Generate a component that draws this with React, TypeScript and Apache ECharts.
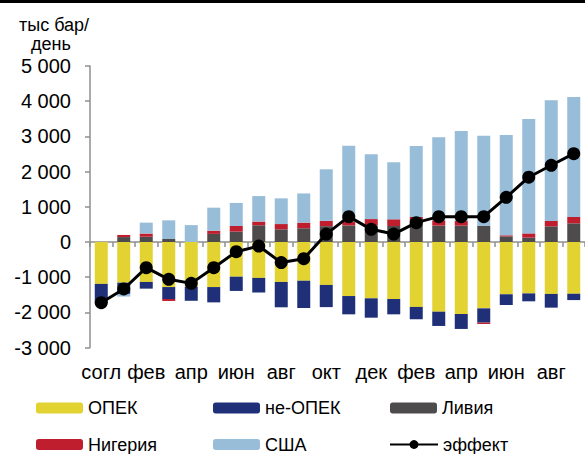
import React, { useEffect, useRef } from "react";
import * as echarts from "echarts";

const categories = [
  "согл", "янв", "фев", "мар", "апр", "май", "июн", "июл", "авг", "сен", "окт",
  "ноя", "дек", "янв", "фев", "мар", "апр", "май", "июн", "июл", "авг", "сен",
];

const opec = [
  -1190, -1155, -1135, -1280, -1270, -1280, -985, -1020, -1135, -1100, -1220,
  -1535, -1600, -1620, -1845, -1980, -2045, -1885, -1485, -1460, -1475, -1470,
];
const nonOpec = [
  -550, -320, -190, -340, -400, -435, -405, -415, -720, -775, -630,
  -520, -550, -435, -350, -405, -425, -405, -305, -225, -390, -180,
];
const libya = [
  0, 140, 150, 85, 0, 230, 295, 475, 360, 390, 450,
  470, 470, 455, 520, 465, 465, 465, 160, 125, 445, 530,
];
const nigeria = [
  0, 60, 90, -55, 0, 90, 160, 105, 150, 160, 150,
  110, 180, 190, 190, 150, 130, -40, 30, 120, 155, 180,
];
const usa = [
  0, -75, 310, 530, 480, 655, 655, 725, 730, 830, 1465,
  2155, 1840, 1620, 2020, 2360, 2560, 2555, 2850, 3250, 3425, 3410,
];
const effect = [
  -1725, -1335, -730, -1060, -1175, -730, -275, -115, -585, -475, 225,
  720, 360, 225, 550, 720, 720, 720, 1270, 1840, 2180, 2510,
];

const FONT = "'Liberation Sans', Arial, sans-serif";
const AXIS_GRAY = "#8f8f8f";

const fmt = (v: number) => {
  const s = Math.abs(v).toString().replace(/\B(?=(\d{3})+(?!\d))/g, " ");
  return (v < 0 ? "-" : "") + s;
};

export default function App() {
  const ref = useRef<HTMLDivElement>(null);
  useEffect(() => {
    if (!ref.current) return;
    const chart = echarts.init(ref.current, null, { renderer: "svg" });
    const barSeries = (name: string, data: number[], color: string) => ({
      name,
      type: "bar",
      stack: "total",
      data,
      barWidth: 13,
      itemStyle: { color },
      xAxisIndex: 0,
      yAxisIndex: 0,
    });
    const legendItem = (name: string, left: number, top: number) => ({
      data: [name],
      left,
      top,
      padding: 0,
      itemWidth: 47,
      itemHeight: 11,
      itemGap: 5,
      textStyle: { fontFamily: FONT, fontSize: 18, color: "#000", lineHeight: 20 },
    });
    chart.setOption({
      animation: false,
      grid: { left: 90, top: 66, width: 498, height: 281.6, containLabel: false },
      graphic: [
        { type: "rect", shape: { x: 0, y: 0, width: 585, height: 3 }, style: { fill: "#000" } },
        {
          type: "text", x: 54, y: 25,
          style: {
            text: "тыс бар/", fontFamily: FONT, fontSize: 18, fill: "#000",
            textAlign: "center", textVerticalAlign: "middle",
          },
        },
        {
          type: "text", x: 51, y: 44,
          style: {
            text: "день", fontFamily: FONT, fontSize: 18, fill: "#000",
            textAlign: "center", textVerticalAlign: "middle",
          },
        },
      ],
      legend: [
        { ...legendItem("ОПЕК", 36, 398) },
        { ...legendItem("не-ОПЕК", 213, 398) },
        { ...legendItem("Ливия", 390, 398) },
        { ...legendItem("Нигерия", 36, 434.5) },
        { ...legendItem("США", 213, 434.5) },
        { ...legendItem("эффект", 389, 434.5), itemWidth: 48 },
      ],
      xAxis: [
        {
          type: "category",
          data: categories,
          axisLine: { onZero: true, lineStyle: { color: AXIS_GRAY, width: 1.5 } },
          axisTick: { show: true, interval: 0, length: 5, lineStyle: { color: AXIS_GRAY, width: 1.5 } },
          axisLabel: { show: false },
          splitLine: { show: false },
        },
        {
          type: "category",
          data: categories,
          position: "bottom",
          axisLine: { show: false, onZero: false },
          axisTick: { show: false },
          axisLabel: { show: true, interval: 1, margin: 14, fontFamily: FONT, fontSize: 20, color: "#000" },
          splitLine: { show: false },
        },
      ],
      yAxis: {
        type: "value",
        min: -3000,
        max: 5000,
        interval: 1000,
        axisLine: { show: true, onZero: false, lineStyle: { color: AXIS_GRAY, width: 1.5 } },
        axisTick: { show: true, length: 5, lineStyle: { color: AXIS_GRAY, width: 1.5 } },
        axisLabel: { margin: 19, fontFamily: FONT, fontSize: 20, color: "#000", formatter: fmt },
        splitLine: { show: false },
      },
      series: [
        barSeries("ОПЕК", opec, "#E2D232"),
        barSeries("не-ОПЕК", nonOpec, "#1F3079"),
        barSeries("Ливия", libya, "#4E4B4D"),
        barSeries("Нигерия", nigeria, "#BE1E2D"),
        barSeries("США", usa, "#98BDD8"),
        {
          name: "эффект",
          type: "line",
          data: effect,
          xAxisIndex: 0,
          yAxisIndex: 0,
          symbol: "circle",
          symbolSize: 13,
          itemStyle: { color: "#000" },
          lineStyle: { color: "#000", width: 3 },
          z: 10,
        },
      ],
    });
    return () => chart.dispose();
  }, []);
  return (
    <div
      ref={ref}
      style={{ position: "absolute", left: 0, top: 0, width: 585, height: 454 }}
    />
  );
}
